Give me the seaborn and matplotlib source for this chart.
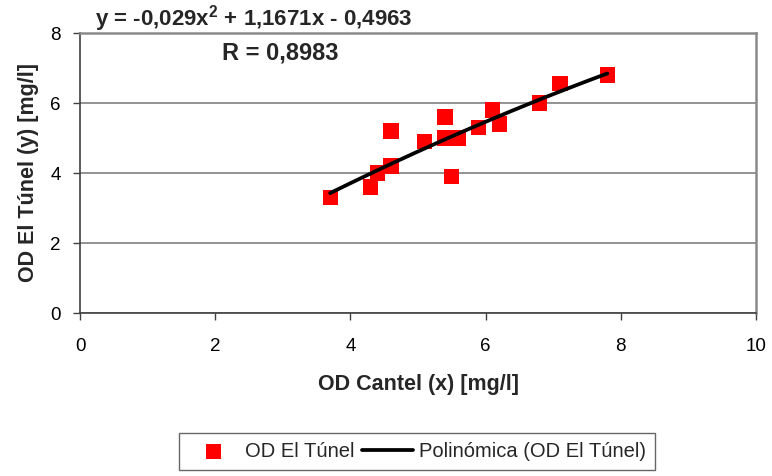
import numpy as np
import pandas as pd
import matplotlib
matplotlib.use("Agg")
import matplotlib.pyplot as plt
import seaborn as sns

# Data
od_cantel = [3.7, 4.3, 4.4, 4.6, 4.6, 5.1, 5.4, 5.4, 5.6, 5.5, 5.9, 6.1, 6.2, 6.8, 7.1, 7.8]
od_tunel = [3.3, 3.6, 4.0, 4.2, 5.2, 4.9, 5.6, 5.0, 5.0, 3.9, 5.3, 5.8, 5.4, 6.0, 6.55, 6.8]

# Polynomial trendline coefficients (as shown on the chart)
poly_coeffs = [-0.029, 1.1671, -0.4963]
eq_label = r"y = -0,029x$^{\mathbf{2}}$ + 1,1671x - 0,4963"
r_label = "R = 0,8983"

x_ticks = [0, 2, 4, 6, 8, 10]
y_ticks = [0, 2, 4, 6, 8]

sns.set_theme(style="white")
plt.rcParams["font.family"] = ["Liberation Sans", "DejaVu Sans"]
plt.rcParams["mathtext.fontset"] = "custom"
plt.rcParams["mathtext.rm"] = "Liberation Sans"
plt.rcParams["mathtext.bf"] = "Liberation Sans:bold"

fig = plt.figure(figsize=(7.72, 4.76), dpi=100)
ax = fig.add_axes([80 / 772, 1 - 313 / 476, (756 - 80) / 772, (313 - 33) / 476])

df = pd.DataFrame({"x": od_cantel, "y": od_tunel})
xs = np.linspace(min(od_cantel), max(od_cantel), 60)
trend = pd.DataFrame({"x": xs, "y": np.polyval(poly_coeffs, xs)})

sns.scatterplot(data=df, x="x", y="y", ax=ax, marker="s", s=120, color="#ff0000",
                edgecolor="none", linewidth=0, label="OD El Túnel", zorder=3)
sns.lineplot(data=trend, x="x", y="y", ax=ax, color="black", linewidth=2.7,
             label="Polinómica (OD El Túnel)", zorder=4)

ax.set_xlim(0, 10)
ax.set_ylim(0, 8)
ax.set_xticks(x_ticks)
ax.set_yticks(y_ticks)
ax.tick_params(axis="both", labelsize=13.5, length=5, width=1, direction="out",
               color="#404040", bottom=True, left=True)
ax.tick_params(axis="x", pad=13)
ax.tick_params(axis="y", pad=9)
for t in ax.get_xticklabels() + ax.get_yticklabels():
    t.set_color("black")

ax.yaxis.grid(True, color="#808080", linewidth=1.2)
ax.xaxis.grid(False)
ax.set_axisbelow(True)
for side in ["top", "right"]:
    ax.spines[side].set_color("#8a8a8a")
    ax.spines[side].set_linewidth(1.8)
for side in ["left", "bottom"]:
    ax.spines[side].set_color("#404040")
    ax.spines[side].set_linewidth(1.2)

ax.set_xlabel("OD Cantel (x) [mg/l]", fontsize=15.5, fontweight="bold", labelpad=14)
ax.set_ylabel("OD El Túnel (y) [mg/l]", fontsize=15.5, fontweight="bold", labelpad=8)

fig.text(95 / 772, 1 - 19 / 476, eq_label, fontsize=16, fontweight="bold",
         ha="left", va="center")
fig.text(280 / 772, 1 - 53 / 476, r_label, fontsize=17, fontweight="bold",
         ha="center", va="center")

ax.get_legend().remove()
handles, labels = ax.get_legend_handles_labels()
leg = fig.legend(handles, labels, loc="upper center", bbox_to_anchor=(417 / 772, 1 - 433 / 476),
                 ncol=2, frameon=True, fancybox=False, edgecolor="#404040",
                 fontsize=14.5, handlelength=2.5, columnspacing=0.4, handletextpad=0.3,
                 borderpad=0.45, borderaxespad=0)
leg.get_frame().set_linewidth(1)

fig.savefig("out.png", dpi=100)
